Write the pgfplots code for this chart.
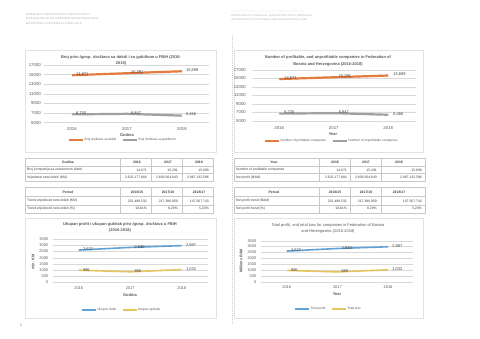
\documentclass[border=0pt]{standalone}
\usepackage{fontspec}
\setmainfont{Liberation Sans}
\newfontfamily\hdr[LetterSpace=12]{Liberation Sans}
\usepackage{pgfplots}
\pgfplotsset{compat=1.18}
\definecolor{txt}{HTML}{404040}
\definecolor{tickc}{HTML}{595959}
\definecolor{gridc}{HTML}{D9D9D9}
\definecolor{boxc}{HTML}{E2E2E2}
\definecolor{tabc}{HTML}{C8C8C8}
\definecolor{hdrc}{HTML}{A8A8A8}
\definecolor{orangec}{HTML}{E47A3E}
\definecolor{greyc}{HTML}{A0A0A0}
\definecolor{bluec}{HTML}{62A2D6}
\definecolor{yellowc}{HTML}{E6C45E}
\newcommand\fs[1]{\fontsize{#1}{#1}\selectfont}
\newcommand\fsl[2]{\fontsize{#1}{#2}\selectfont}
\pgfplotsset{
  mychart/.style={
    scale only axis, anchor=south west, clip=false,
    axis line style={draw=none}, major tick length=0pt,
    ymajorgrids, grid style={draw=gridc, line width=0.4pt},
    xmin=2015.5, xmax=2018.5, xtick={2016,2017,2018}, xticklabels={2016,2017,2018},
    scaled y ticks=false,
    /pgf/number format/assume math mode=true,
    tick label style={text=tickc},
    yticklabel style={/pgf/number format/1000 sep={}, /pgf/number format/fixed, anchor=east, inner sep=0pt},
    xticklabel style={anchor=center, inner sep=0pt},
    point meta=y,
    nodes near coords={\pgfmathprintnumber[fixed,precision=0,1000 sep={,},assume math mode=true]{\pgfplotspointmeta}},
    every node near coord/.style={anchor=west, inner sep=0pt, font=\fs{4}, text=txt},
    legend style={draw=none, fill=none, legend columns=2, font=\fs{3.2}, text=tickc,
      inner sep=0pt, nodes={inner sep=0.6pt},
      /tikz/every even column/.append style={column sep=5pt}},
    legend cell align=left,
    legend image code/.code={\draw[#1] (0pt,0pt) -- (14pt,0pt);},
  }
}
\begin{document}
\begin{tikzpicture}
\begin{scope}[x=1pt,y=-1pt]
\fill[white] (0,0) rectangle (480,339);
\useasboundingbox (0,0) rectangle (480,339);

% page headers
\node[anchor=west, inner sep=0, text=hdrc, font=\hdr\fs{2.8}] at (26,15) {PREGLED FINANSIJSKIH/FINANCIJSKIH};
\node[anchor=west, inner sep=0, text=hdrc, font=\hdr\fs{2.8}] at (26,19) {POKAZATELJA PRIVREDNIH/GOSPODARSKIH};
\node[anchor=west, inner sep=0, text=hdrc, font=\hdr\fs{2.8}] at (26,23) {DRUŠTAVA U FEDERACIJI BIH 2018};
\node[anchor=west, inner sep=0, text=black!7, font=\hdr\fs{3.2}] at (231,11) {PREGLED FINANSIJSKIH POKAZATELJA};
\node[anchor=west, inner sep=0, text=hdrc, font=\hdr\fs{2.5}] at (231,16) {OVERVIEW OF FINANCIAL INDICATORS FOR COMPANIES};
\node[anchor=west, inner sep=0, text=hdrc, font=\hdr\fs{2.5}] at (231,20) {IN FEDERATION OF BOSNIA AND HERZEGOVINA 2018};
\node[inner sep=0, text=hdrc, font=\fs{4}] at (21,325) {8};

% column separator
\draw[boxc!80!gray, dash pattern=on 1pt off 1pt, line width=0.4pt] (232,35) -- (232,325);

% chart boxes
\draw[boxc, line width=0.5pt] (25.5,50) rectangle (216,152);
\draw[boxc, line width=0.5pt] (234,50) rectangle (423,152);
\draw[boxc, line width=0.5pt] (25.5,218) rectangle (216,318);
\draw[boxc, line width=0.5pt] (234,218) rectangle (423,318);

% chart titles and axis titles
\node[align=center, inner sep=0, text=tickc, font=\bfseries\fsl{4.0}{6}] at (121,60)
  {Broj privr./gosp. društava sa dobiti i sa gubitkom u FBiH (2016-\\2018)};
\node[inner sep=0, text=tickc, font=\bfseries\fs{4}] at (127,135) {Godina};
\node[align=center, inner sep=0, text=tickc, font=\bfseries\fsl{4.0}{7}] at (328,60.5)
  {Number of profitable, and unprofitable companies in Federation of\\Bosnia and Herzegovina (2016-2018)};
\node[inner sep=0, text=tickc, font=\bfseries\fs{4}] at (333,134) {Year};
\node[align=center, inner sep=0, text=tickc, font=\bfseries\fsl{4.0}{6}] at (120,227)
  {Ukupan profit i ukupan gubitak privr./gosp. društava u FBiH\\(2016-2018)};
\node[inner sep=0, text=tickc, font=\bfseries\fs{4}] at (130,295) {Godina};
\node[inner sep=0, text=tickc, font=\bfseries\fs{3.8}, rotate=90] at (33,262) {mln. KM};
\node[align=center, inner sep=0, text=tickc, font=\fsl{4.0}{6}] at (328,228)
  {Total profit, and total loss for companies in Federation of Bosnia\\and Herzegovina (2016-2018)};
\node[inner sep=0, text=tickc, font=\bfseries\fs{4}] at (337,294) {Year};
\node[inner sep=0, text=tickc, font=\bfseries\fs{3.8}, rotate=90] at (241,261) {Millions BAM};

% ---------- Tables
\begin{scope}[tabc, line width=0.4pt]
\draw (25.5,158) rectangle (213,181);
\foreach \yy in {166,173.5} \draw (25.5,\yy) -- (213,\yy);
\foreach \xx in {120,151,182} \draw (\xx,158) -- (\xx,181);
\draw (25.5,187.5) rectangle (213,213);
\foreach \yy in {196.5,205} \draw (25.5,\yy) -- (213,\yy);
\foreach \xx in {120,151,182} \draw (\xx,187.5) -- (\xx,213);
\draw (234,158) rectangle (425,181);
\foreach \yy in {166,173.5} \draw (234,\yy) -- (425,\yy);
\foreach \xx in {319,350,381} \draw (\xx,158) -- (\xx,181);
\draw (234,187.5) rectangle (425,213);
\foreach \yy in {196.5,205} \draw (234,\yy) -- (425,\yy);
\foreach \xx in {319,350,381} \draw (\xx,187.5) -- (\xx,213);
\end{scope}
\begin{scope}[every node/.style={inner sep=0, text=txt, font=\fs{3.4}}]
\node[font=\bfseries\fs{3.4}] at (68,162) {Godina};
\node[font=\bfseries\fs{3.4}] at (137,162) {2016};
\node[font=\bfseries\fs{3.4}] at (168,162) {2017};
\node[font=\bfseries\fs{3.4}] at (199,162) {2018};
\node[anchor=west] at (27,170) {Broj kompanija sa ostvarenom dobiti};
\node[anchor=east] at (147,170) {14.871};
\node[anchor=east] at (178,170) {15.291};
\node[anchor=east] at (209,170) {15.699};
\node[anchor=west] at (27,177.3) {Vrijednost neto dobiti (KM)};
\node[anchor=east] at (147,177.3) {2.622.177.884};
\node[anchor=east] at (178,177.3) {2.839.564.843};
\node[anchor=east] at (209,177.3) {2.987.132.586};
\node[font=\bfseries\fs{3.4}] at (68,192) {Period};
\node[font=\bfseries\fs{3.4}] at (137,192) {2016/15};
\node[font=\bfseries\fs{3.4}] at (168,192) {2017/16};
\node[font=\bfseries\fs{3.4}] at (199,192) {2018/17};
\node[anchor=west] at (27,201) {Trend vrijednosti neto dobiti (KM)};
\node[anchor=east] at (147,201) {251.498.532};
\node[anchor=east] at (178,201) {217.386.959};
\node[anchor=east] at (209,201) {147.567.743};
\node[anchor=west] at (27,209) {Trend vrijednosti neto dobiti (\%)};
\node[anchor=east] at (147,209) {10,61\%};
\node[anchor=east] at (178,209) {8,29\%};
\node[anchor=east] at (209,209) {5,20\%};
\node[font=\bfseries\fs{3.4}] at (274,162) {Year};
\node[font=\bfseries\fs{3.4}] at (335,162) {2016};
\node[font=\bfseries\fs{3.4}] at (366,162) {2017};
\node[font=\bfseries\fs{3.4}] at (399,162) {2018};
\node[anchor=west] at (236,170) {Number of profitable companies};
\node[anchor=east] at (347,170) {14.871};
\node[anchor=east] at (377,170) {15.291};
\node[anchor=east] at (422,170) {15.699};
\node[anchor=west] at (236,177.3) {Net profit (BAM)};
\node[anchor=east] at (347,177.3) {2.622.177.884};
\node[anchor=east] at (377,177.3) {2.839.564.843};
\node[anchor=east] at (422,177.3) {2.987.132.586};
\node[font=\bfseries\fs{3.4}] at (274,192) {Period};
\node[font=\bfseries\fs{3.4}] at (335,192) {2016/15};
\node[font=\bfseries\fs{3.4}] at (366,192) {2017/16};
\node[font=\bfseries\fs{3.4}] at (399,192) {2018/17};
\node[anchor=west] at (236,201) {Net profit trend (BAM)};
\node[anchor=east] at (347,201) {251.498.532};
\node[anchor=east] at (377,201) {217.386.959};
\node[anchor=east] at (422,201) {147.567.743};
\node[anchor=west] at (236,209) {Net profit trend (\%)};
\node[anchor=east] at (347,209) {10,61\%};
\node[anchor=east] at (377,209) {8,29\%};
\node[anchor=east] at (422,209) {5,20\%};
\end{scope}
\end{scope}

% ---------- Chart 1 (left top)
\begin{axis}[mychart, at={(44.5pt,-122.7pt)}, width=165pt, height=57.7pt,
  ymin=5000, ymax=17000, ytick={5000,7000,...,17000},
  tick label style={font=\fs{4.3}},
  xticklabel style={yshift=-6.6pt}, yticklabel style={xshift=-3.5pt},
  every node near coord/.append style={xshift=3pt, yshift=0.8pt},
  legend style={at={(axis description cs:0.47,0)}, anchor=center, yshift=-17.3pt}]
\addplot[orangec, line width=2.2pt] coordinates {(2016,14871) (2017,15291) (2018,15699)};
\addlegendentry{Broj društava sa dobiti}
\addplot[greyc, line width=2.2pt] coordinates {(2016,6730) (2017,6847) (2018,6466)};
\addlegendentry{Broj društava sa gubitkom}
\end{axis}

% ---------- Chart 2 (right top)
\begin{axis}[mychart, at={(252pt,-121pt)}, width=163.5pt, height=51pt,
  ymin=5000, ymax=17000, ytick={5000,7000,...,17000},
  tick label style={font=\fs{4.3}},
  xticklabel style={yshift=-7pt}, yticklabel style={xshift=-6pt},
  every node near coord/.append style={xshift=4pt, yshift=0.8pt},
  legend style={at={(axis description cs:0.483,0)}, anchor=center, yshift=-20pt}]
\addplot[orangec, line width=2.2pt] coordinates {(2016,14871) (2017,15291) (2018,15699)};
\addlegendentry{Number of profitable companies}
\addplot[greyc, line width=2.2pt] coordinates {(2016,6730) (2017,6847) (2018,6466)};
\addlegendentry{Number of unprofitable companies}
\end{axis}

% ---------- Chart 3 (left bottom)
\begin{axis}[mychart, at={(53pt,-282.3pt)}, width=154.5pt, height=43pt,
  ymin=0, ymax=3500, ytick={0,500,...,3500},
  tick label style={font=\fs{3.9}},
  xticklabel style={yshift=-5.4pt}, yticklabel style={xshift=-4.7pt},
  every node near coord/.append style={xshift=3.5pt, yshift=0.5pt},
  legend style={at={(axis description cs:0.44,0)}, anchor=center, yshift=-27.7pt}]
\addplot[bluec, line width=1.6pt] coordinates {(2016,2622) (2017,2840) (2018,2987)};
\addlegendentry{Ukupno dobit}
\addplot[yellowc, line width=1.6pt] coordinates {(2016,985) (2017,855) (2018,1032)};
\addlegendentry{Ukupan gubitak}
\end{axis}

% ---------- Chart 4 (right bottom)
\begin{axis}[mychart, at={(261.4pt,-282pt)}, width=152pt, height=41.3pt,
  ymin=0, ymax=3500, ytick={0,500,...,3500},
  tick label style={font=\fs{3.9}},
  xticklabel style={yshift=-4.7pt}, yticklabel style={xshift=-5pt},
  every node near coord/.append style={xshift=3.5pt, yshift=0.5pt},
  legend style={at={(axis description cs:0.438,0)}, anchor=center, yshift=-27pt}]
\addplot[bluec, line width=1.6pt] coordinates {(2016,2622) (2017,2840) (2018,2987)};
\addlegendentry{Total profit}
\addplot[yellowc, line width=1.6pt] coordinates {(2016,985) (2017,855) (2018,1032)};
\addlegendentry{Total loss}
\end{axis}
\end{tikzpicture}
\end{document}
